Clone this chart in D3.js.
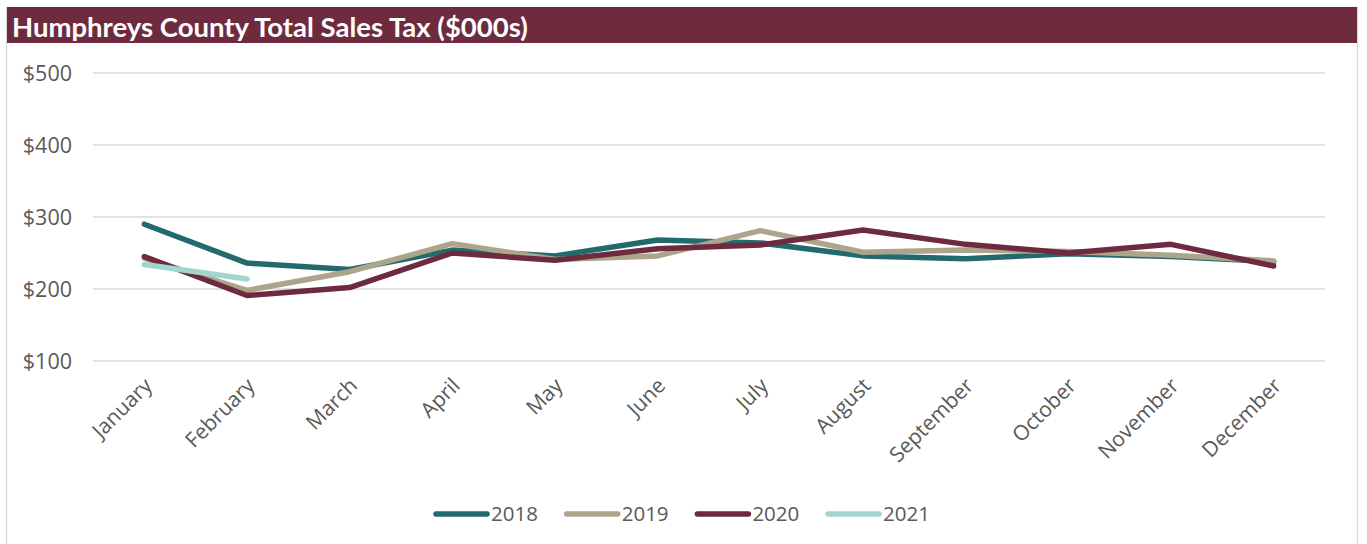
<!DOCTYPE html>
<html>
<head>
<meta charset="utf-8">
<script src="https://cdn.jsdelivr.net/npm/d3@7"></script>
<style>
  body { margin: 0; background: #fff; }
  text { font-family: "Open Sans", sans-serif; }
</style>
</head>
<body>
<svg id="chart" width="1367" height="544"></svg>
<script>
const months = ["January", "February", "March", "April", "May", "June", "July",
  "August", "September", "October", "November", "December"];
const yTicks = [100, 200, 300, 400, 500];
const years = ["2018", "2019", "2020", "2021"];

const sales2018 = [290, 236, 227, 254, 246, 268, 264, 246, 242, 249, 245, 238];
const sales2019 = [243, 198, 224, 263, 241, 246, 281, 251, 254, 252, 247, 239];
const sales2020 = [245, 191, 202, 250, 240, 256, 261, 282, 262, 250, 262, 232];
const sales2021 = [234, 214];

const colors = ["#236a6c", "#aca58c", "#6e2a3e", "#a3d5cf"];

const plot = { left: 93, right: 1325, top: 73, bottom: 361 };

const svg = d3.select("#chart");

// frame + header
svg.append("rect")
  .attr("x", 6.5).attr("y", 7.5)
  .attr("width", 1351).attr("height", 545)
  .attr("fill", "#fff")
  .attr("stroke", "#d9d9d9")
  .attr("stroke-width", 1.5);

svg.append("rect")
  .attr("x", 7).attr("y", 7)
  .attr("width", 1350).attr("height", 36)
  .attr("fill", "#6e2b3e");

svg.append("text")
  .attr("x", 12).attr("y", 37)
  .attr("fill", "#fff")
  .attr("font-size", "27.5px")
  .attr("font-weight", "bold")
  .style("font-family", "Lato, sans-serif")
  .text("Humphreys County Total Sales Tax ($000s)");

const x = d3.scalePoint().domain(months)
  .range([plot.left, plot.right]).padding(0.5);
const y = d3.scaleLinear().domain([100, 500])
  .range([plot.bottom, plot.top]);

// gridlines
svg.append("g")
  .selectAll("line")
  .data(yTicks)
  .join("line")
  .attr("x1", plot.left).attr("x2", plot.right)
  .attr("y1", d => y(d)).attr("y2", d => y(d))
  .attr("stroke", "#d9d9d9")
  .attr("stroke-width", 1.5);

// y labels
svg.append("g")
  .selectAll("text")
  .data(yTicks)
  .join("text")
  .attr("x", 72)
  .attr("y", d => y(d))
  .attr("dy", "0.35em")
  .attr("text-anchor", "end")
  .attr("font-size", "21.5px")
  .attr("fill", "#595959")
  .text(d => "$" + d);

// x labels
svg.append("g")
  .selectAll("text")
  .data(months)
  .join("text")
  .attr("text-anchor", "end")
  .attr("font-size", "21px")
  .attr("fill", "#595959")
  .attr("transform", d => `translate(${x(d) + 9},${plot.bottom + 26}) rotate(-45)`)
  .text(d => d);

// lines
const series = [sales2018, sales2019, sales2020, sales2021];
const line = d3.line()
  .x((d, i) => x(months[i]))
  .y(d => y(d));

series.forEach((vals, i) => {
  svg.append("path")
    .datum(vals)
    .attr("fill", "none")
    .attr("stroke", colors[i])
    .attr("stroke-width", 5.5)
    .attr("stroke-linejoin", "round")
    .attr("stroke-linecap", "round")
    .attr("d", line);
});

// legend
const legend = svg.append("g").attr("transform", "translate(434,514)");
years.forEach((yr, i) => {
  const g = legend.append("g").attr("transform", `translate(${i * 130.7},0)`);
  g.append("line")
    .attr("x1", 2).attr("x2", 53)
    .attr("stroke", colors[i])
    .attr("stroke-width", 5.5)
    .attr("stroke-linecap", "round");
  g.append("text")
    .attr("x", 57)
    .attr("dy", "0.35em")
    .attr("font-size", "20.5px")
    .attr("fill", "#595959")
    .text(yr);
});
</script>
</body>
</html>
